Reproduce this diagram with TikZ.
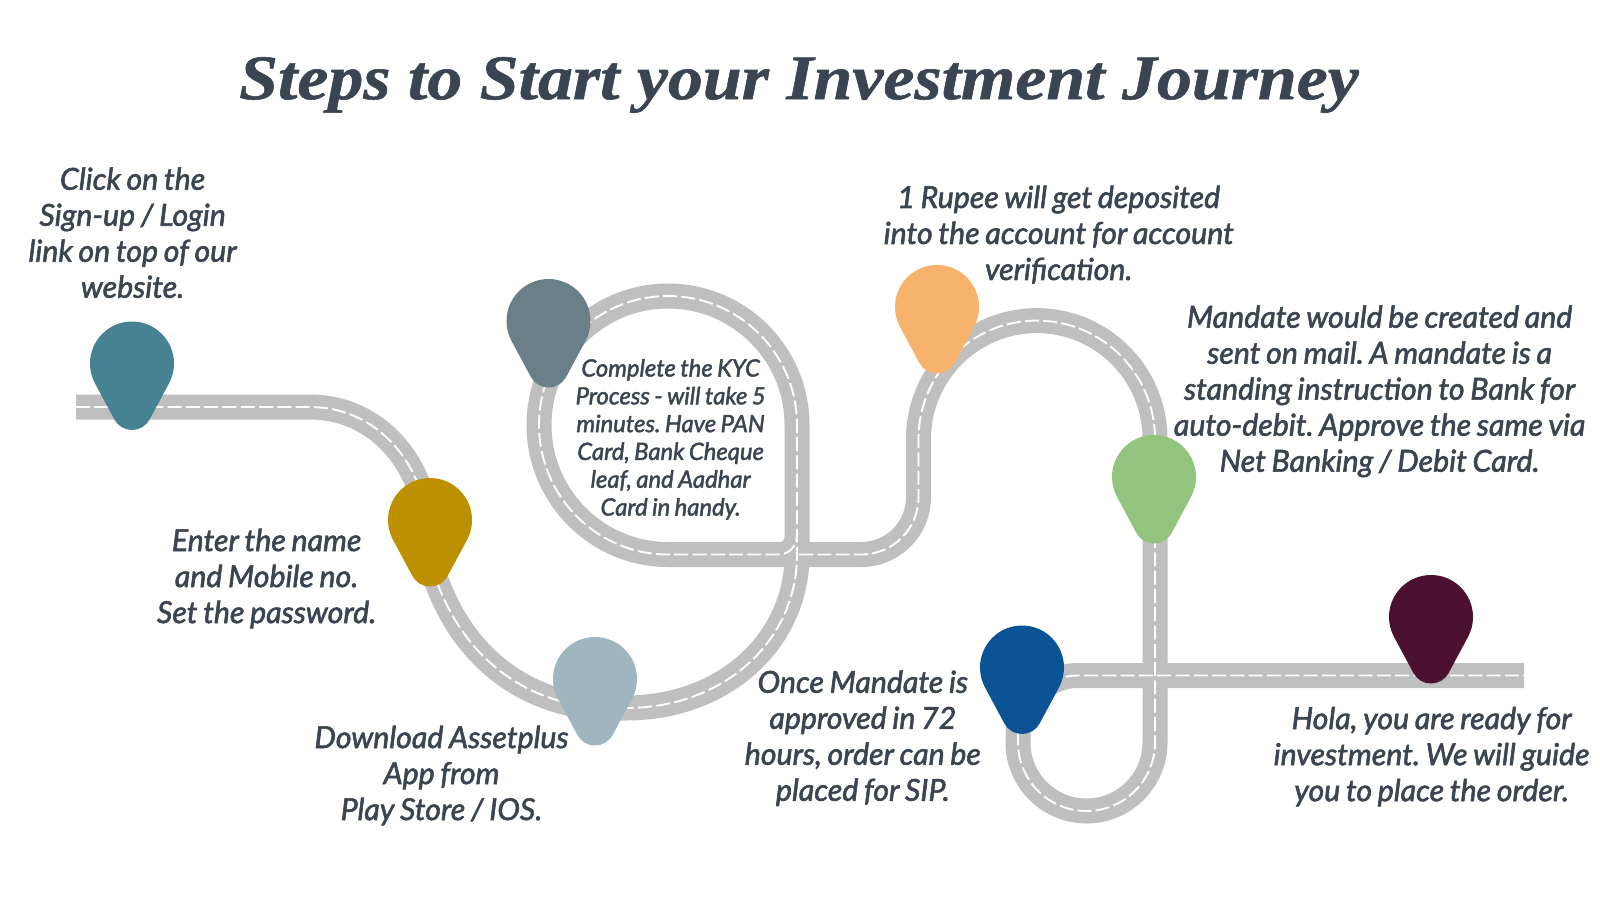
\documentclass[tikz,border=0pt]{standalone}
\usepackage{fontspec}
\newfontfamily\lato{Lato}[WordSpace=0.8,ItalicFeatures={FakeBold=1.9}]
\newfontfamily\headfont{Liberation Serif}[FakeStretch=1.1,BoldItalicFeatures={FakeBold=0.9}]
\frenchspacing
\definecolor{ink}{HTML}{3B4451}
\definecolor{road}{HTML}{BFBFBF}
\definecolor{pinA}{HTML}{478293}
\definecolor{pinB}{HTML}{BD9000}
\definecolor{pinC}{HTML}{9FB6BE}
\definecolor{pinD}{HTML}{6A7F87}
\definecolor{pinE}{HTML}{F7B36C}
\definecolor{pinF}{HTML}{93C47D}
\definecolor{pinG}{HTML}{0B5394}
\definecolor{pinH}{HTML}{4C1130}
\tikzset{
  x=1pt,y=-1pt,
  label text/.style={text=ink,align=center,inner sep=0pt,font={\frenchspacing\lato\itshape\fontsize{30.3}{36}\selectfont}},
  small text/.style={text=ink,align=center,inner sep=0pt,font={\frenchspacing\lato\itshape\fontsize{23.8}{27.8}\selectfont}},
  title text/.style={text=ink,inner sep=0pt,font={\headfont\bfseries\itshape\fontsize{63.5}{70}\selectfont}},
  road base/.style={draw=road,line width=25pt,line cap=butt,line join=round},
  road mark/.style={draw=white,line width=1.9pt,dash pattern=on 14pt off 4.3pt},
  pin/.pic={
    \fill[fill=#1] (-42,42) .. controls (-42,18.8) and (-23.2,0) .. (0,0)
      .. controls (23.2,0) and (42,18.8) .. (42,42)
      .. controls (42,48.9) and (40.3,55.8) .. (37,61.9)
      -- (17.6,98) .. controls (14.1,104.5) and (7.4,108.5) .. (0,108.5)
      .. controls (-7.4,108.5) and (-14.1,104.5) .. (-17.6,98)
      -- (-37,61.9) .. controls (-40.3,55.8) and (-42,48.9) .. (-42,42) -- cycle;
  }
}
\newcommand{\roadA}{(76,407) -- (310,407)
  .. controls (365,407) and (405,445) .. (420,490)
  .. controls (424,625) and (505,714) .. (626,708)
  .. controls (725,708) and (797,640) .. (797,555)
  -- (797,425)
  .. controls (797,353.8) and (739.2,296) .. (668,296)
  .. controls (596.8,296) and (539,353.8) .. (539,425)
  .. controls (539,496.2) and (596.8,554.5) .. (668,554.5)}
\newcommand{\roadB}{(668,554.5) -- (861,554.5)
  .. controls (892.8,554.5) and (918.5,529.2) .. (918.5,497)
  -- (918.5,439)
  .. controls (918.5,373.7) and (971.5,320.6) .. (1036.8,320.6)
  .. controls (1102,320.6) and (1155,373.7) .. (1155,439)
  -- (1155,742.5)
  .. controls (1155,780.3) and (1124.3,811) .. (1086.5,811)
  .. controls (1048.7,811) and (1018,780.3) .. (1018,742.5)
  -- (1018,736)
  .. controls (1018,703) and (1045,675.5) .. (1078,675.5)
  -- (1524,675.5)}
\begin{document}
\begin{tikzpicture}
\useasboundingbox (0,0) rectangle (1600,899);
\fill[white] (0,0) rectangle (1600,899);
\draw[road base] \roadA;
\draw[road base] \roadB;
\fill[road] (779.5,542.5) .. controls (782.3,542.5) and (784.5,540) .. (784.5,537) -- (786,545) -- cycle;
\draw[road mark] \roadA -- (778,554.5) .. controls (790,554.5) and (797,546) .. (797,533);
\draw[road mark] (799,554.5) -- (861,554.5)
  .. controls (892.8,554.5) and (918.5,529.2) .. (918.5,497)
  -- (918.5,439)
  .. controls (918.5,373.7) and (971.5,320.6) .. (1036.8,320.6)
  .. controls (1102,320.6) and (1155,373.7) .. (1155,439)
  -- (1155,742.5)
  .. controls (1155,780.3) and (1124.3,811) .. (1086.5,811)
  .. controls (1048.7,811) and (1018,780.3) .. (1018,742.5)
  -- (1018,736)
  .. controls (1018,703) and (1045,675.5) .. (1078,675.5)
  -- (1524,675.5);
\pic at (132,321.5) {pin=pinA};
\pic at (430,478) {pin=pinB};
\pic at (595,637) {pin=pinC};
\pic at (548.5,279) {pin=pinD};
\pic at (937,265) {pin=pinE};
\pic at (1154,435) {pin=pinF};
\pic at (1022,625.5) {pin=pinG};
\pic at (1431,575) {pin=pinH};
\node[title text] (title) at (799,85) {Steps to Start your Investment Journey};
\node[label text] (s1) at (132.6,232.7) {Click on the\\Sign-up / Login\\link on top of our\\website.};
\node[label text] (s2) at (266.6,578.5) {Enter the name\\and Mobile no.\\Set the password.};
\node[label text] (s3) at (441.5,775.5) {Download Assetplus\\App from\\Play Store / IOS.};
\node[small text] (s4) at (670.6,439.3) {Complete the KYC\\Process - will take 5\\minutes. Have PAN\\Card, Bank Cheque\\leaf, and Aadhar\\Card in handy.};
\node[label text] (s5) at (1058.7,234.7) {1 Rupee will get deposited\\into the account for account\\verification.};
\node[label text] (s6) at (1379.6,391.3) {Mandate would be created and\\sent on mail. A mandate is a\\standing instruction to Bank for\\auto-debit. Approve the same via\\Net Banking / Debit Card.};
\node[label text] (s7) at (862.8,738.2) {Once Mandate is\\approved in 72\\hours, order can be\\placed for SIP.};
\node[label text] (s8) at (1431.6,756.6) {Hola, you are ready for\\investment. We will guide\\you to place the order.};
\end{tikzpicture}
\end{document}
